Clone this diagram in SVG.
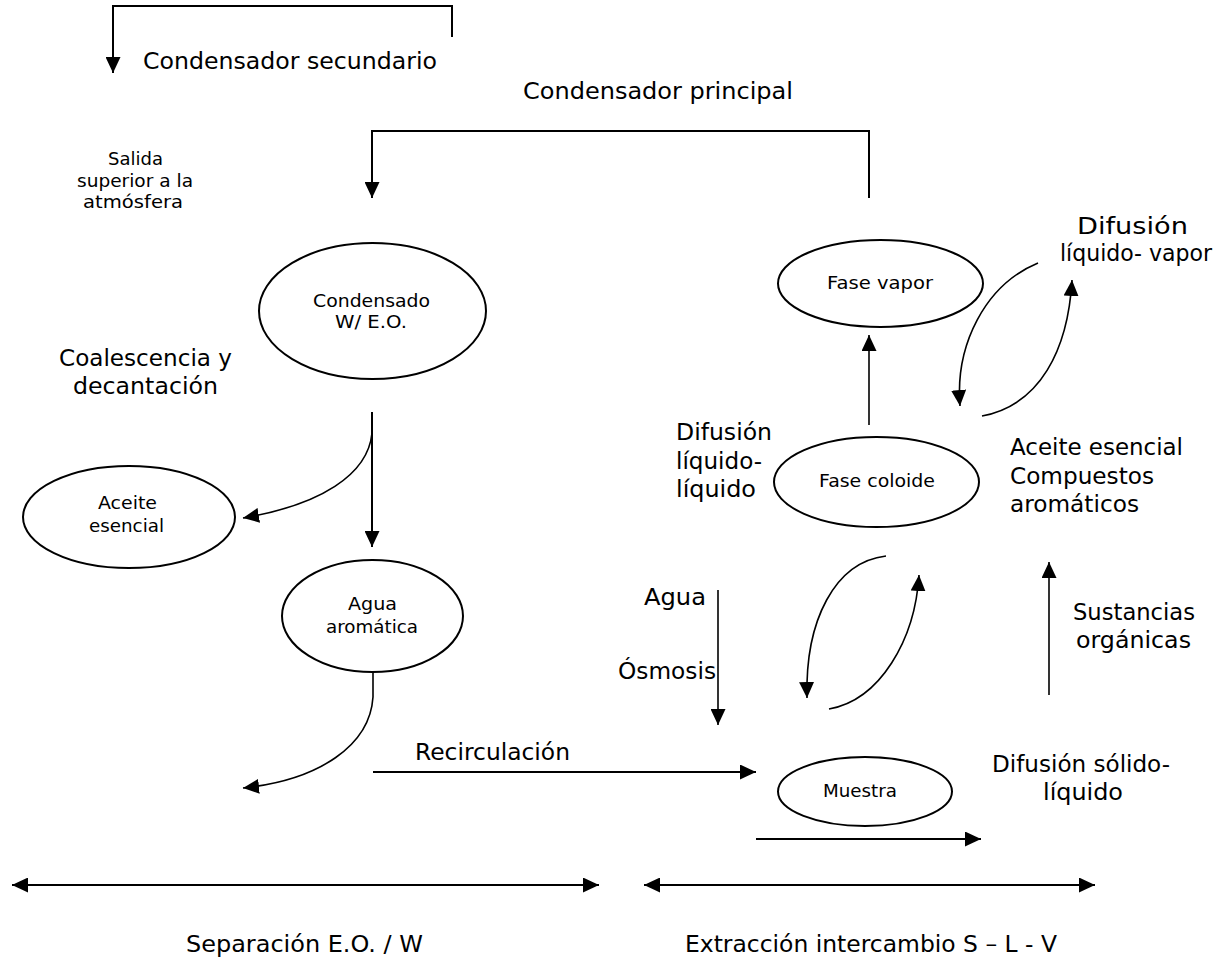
<svg xmlns="http://www.w3.org/2000/svg" width="1228" height="973" viewBox="0 0 1228 973">
<defs>
<marker id="ah" markerWidth="17" markerHeight="15" refX="16" refY="7.5" orient="auto" markerUnits="userSpaceOnUse"><path d="M0,0 L16,7.5 L0,15 z" fill="#000"/></marker>
<marker id="ahs" markerWidth="17" markerHeight="15" refX="16" refY="7.5" orient="auto-start-reverse" markerUnits="userSpaceOnUse"><path d="M0,0 L16,7.5 L0,15 z" fill="#000"/></marker>
</defs>
<style>
text{font-family:"DejaVu Sans","Liberation Sans",sans-serif;fill:#000}
.lg{font-size:23px}
.sm{font-size:18px}
.ln{fill:none;stroke:#000;stroke-width:2}
.th{stroke-width:1.6}
.arr{marker-end:url(#ah)}
.dbl{marker-start:url(#ahs);marker-end:url(#ahs)}
ellipse{fill:#fff;stroke:#000;stroke-width:2}
</style>
<rect width="1228" height="973" fill="#fff"/>

<g id="connectors">
<path class="ln arr" d="M452,37 V6 H113 V73"/>
<path class="ln arr" d="M869,198 V131 H372 V198"/>
<path class="ln arr" d="M372,412 V547"/>
<path class="ln th arr" d="M372,433 C368,475 320,505 243,518"/>
<path class="ln th arr" d="M373,672 V697 C370,745 320,780 243,788"/>
<path class="ln arr" d="M373,772 H756"/>
<path class="ln arr" d="M756,839 H981"/>
<path class="ln th arr" d="M718,590 V725"/>
<path class="ln th arr" d="M1049,695 V562"/>
<path class="ln th arr" d="M869,425 V335"/>
<path class="ln th arr" d="M886,556 C835,562 805,620 807,698"/>
<path class="ln th arr" d="M829,709 C880,700 915,640 919,575"/>
<path class="ln th arr" d="M1038,263 C985,285 955,345 960,406"/>
<path class="ln th arr" d="M982,416 C1040,405 1068,350 1072,280"/>
<path class="ln dbl" d="M12,885 H599"/>
<path class="ln dbl" d="M644,885 H1095"/>
</g>

<g id="node-condensado">
<ellipse cx="372.5" cy="311" rx="113.5" ry="68"/>
<text class="sm" x="313" y="307" textLength="117" lengthAdjust="spacingAndGlyphs">Condensado</text>
<text class="sm" x="335" y="328" textLength="72" lengthAdjust="spacingAndGlyphs">W/ E.O.</text>
</g>
<g id="node-aceite">
<ellipse cx="129" cy="517" rx="106" ry="51"/>
<text class="sm" x="98" y="509" textLength="59" lengthAdjust="spacingAndGlyphs">Aceite</text>
<text class="sm" x="89" y="532" textLength="75" lengthAdjust="spacingAndGlyphs">esencial</text>
</g>
<g id="node-agua">
<ellipse cx="372.5" cy="616" rx="90.5" ry="56"/>
<text class="sm" x="348" y="610" textLength="49" lengthAdjust="spacingAndGlyphs">Agua</text>
<text class="sm" x="326" y="633" textLength="92" lengthAdjust="spacingAndGlyphs">aromática</text>
</g>
<g id="node-fase-vapor">
<ellipse cx="880.5" cy="283.5" rx="102.5" ry="43.5"/>
<text class="sm" x="827" y="289" textLength="106" lengthAdjust="spacingAndGlyphs">Fase vapor</text>
</g>
<g id="node-fase-coloide">
<ellipse cx="876.5" cy="482" rx="102.5" ry="45"/>
<text class="sm" x="819" y="487" textLength="116" lengthAdjust="spacingAndGlyphs">Fase coloide</text>
</g>
<g id="node-muestra">
<ellipse cx="865" cy="791.5" rx="87" ry="34.5"/>
<text class="sm" x="823" y="797" textLength="74" lengthAdjust="spacingAndGlyphs">Muestra</text>
</g>

<g id="labels">
<text class="lg" x="143" y="69" textLength="294" lengthAdjust="spacingAndGlyphs">Condensador secundario</text>
<text class="lg" x="523" y="99" textLength="270" lengthAdjust="spacingAndGlyphs">Condensador principal</text>
<text class="sm" x="108" y="165" textLength="55" lengthAdjust="spacingAndGlyphs">Salida</text>
<text class="sm" x="77" y="187" textLength="116" lengthAdjust="spacingAndGlyphs">superior a la</text>
<text class="sm" x="83" y="208" textLength="100" lengthAdjust="spacingAndGlyphs">atmósfera</text>
<text class="lg" x="59" y="366" textLength="173" lengthAdjust="spacingAndGlyphs">Coalescencia y</text>
<text class="lg" x="73" y="394" textLength="145" lengthAdjust="spacingAndGlyphs">decantación</text>
<text class="lg" x="415" y="760" textLength="155" lengthAdjust="spacingAndGlyphs">Recirculación</text>
<text class="lg" x="992" y="772" textLength="178" lengthAdjust="spacingAndGlyphs">Difusión sólido-</text>
<text class="lg" x="1043" y="800" textLength="80" lengthAdjust="spacingAndGlyphs">líquido</text>
<text class="lg" x="1077" y="234" textLength="111" lengthAdjust="spacingAndGlyphs">Difusión</text>
<text class="lg" x="1060" y="261" textLength="152" lengthAdjust="spacingAndGlyphs">líquido- vapor</text>
<text class="lg" x="676" y="440" textLength="96" lengthAdjust="spacingAndGlyphs">Difusión</text>
<text class="lg" x="676" y="469" textLength="86" lengthAdjust="spacingAndGlyphs">líquido-</text>
<text class="lg" x="676" y="497" textLength="80" lengthAdjust="spacingAndGlyphs">líquido</text>
<text class="lg" x="1010" y="455" textLength="173" lengthAdjust="spacingAndGlyphs">Aceite esencial</text>
<text class="lg" x="1010" y="484" textLength="144" lengthAdjust="spacingAndGlyphs">Compuestos</text>
<text class="lg" x="1010" y="512" textLength="129" lengthAdjust="spacingAndGlyphs">aromáticos</text>
<text class="lg" x="644" y="605" textLength="62" lengthAdjust="spacingAndGlyphs">Agua</text>
<text class="lg" x="618" y="679" textLength="98" lengthAdjust="spacingAndGlyphs">Ósmosis</text>
<text class="lg" x="1073" y="620" textLength="122" lengthAdjust="spacingAndGlyphs">Sustancias</text>
<text class="lg" x="1076" y="648" textLength="115" lengthAdjust="spacingAndGlyphs">orgánicas</text>
<text class="lg" x="186" y="952" textLength="237" lengthAdjust="spacingAndGlyphs">Separación E.O. / W</text>
<text class="lg" x="685" y="952" textLength="372" lengthAdjust="spacingAndGlyphs">Extracción intercambio S – L - V</text>
</g>
</svg>
